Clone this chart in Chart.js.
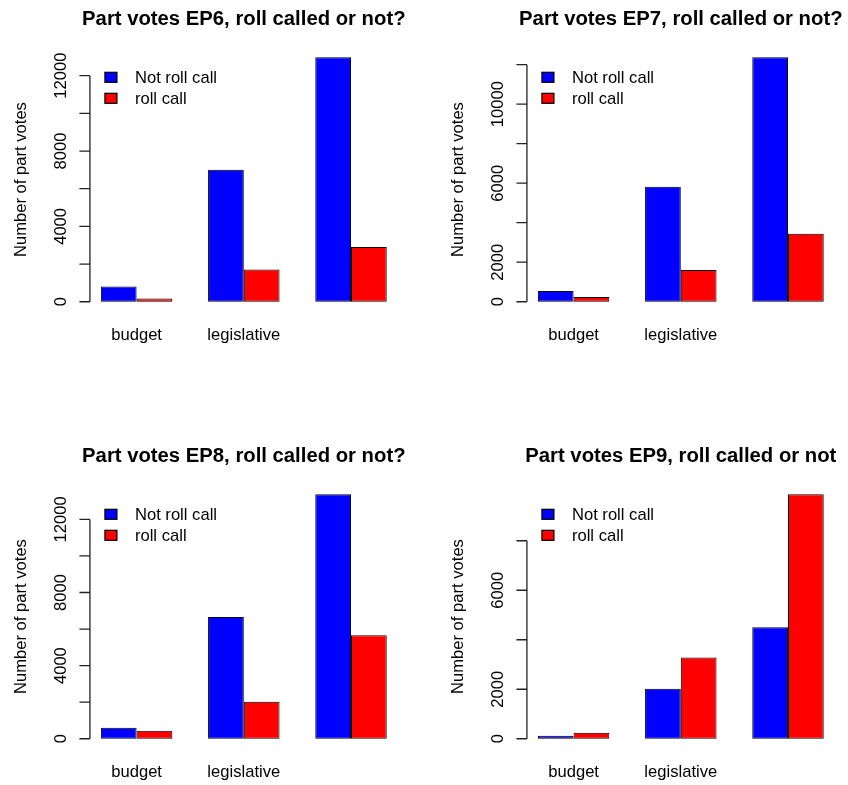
<!DOCTYPE html>
<html><head><meta charset="utf-8">
<script src="https://cdn.jsdelivr.net/npm/chart.js@4/dist/chart.umd.min.js"></script>
<style>
html,body{margin:0;padding:0;background:#fff;}
#wrap{position:relative;width:848px;height:785px;overflow:hidden;background:#fff;}
#wrap canvas{position:absolute;}
</style></head><body><div id="wrap"></div>
<script>
// ---- data ----
const categories = ['budget', 'legislative', ''];
const seriesNames = ['Not roll call', 'roll call'];
const seriesColors = ['#0000FF', '#FF0000'];
const yTitle = 'Number of part votes';

const titleEP6 = 'Part votes EP6, roll called or not?';
const titleEP7 = 'Part votes EP7, roll called or not?';
const titleEP8 = 'Part votes EP8, roll called or not?';
const titleEP9 = 'Part votes EP9, roll called or not';

const ep6NotRollCall = [814, 7009, 12973];
const ep6RollCall    = [177, 1717, 2903];
const ep7NotRollCall = [540, 5823, 12371];
const ep7RollCall    = [236, 1603, 3443];
const ep8NotRollCall = [603, 6667, 13370];
const ep8RollCall    = [438, 2027, 5662];
const ep9NotRollCall = [121, 2024, 4506];
const ep9RollCall    = [243, 3278, 9875];

const ep6Ticks = [0, 2000, 4000, 6000, 8000, 10000, 12000];
const ep6TickLabels = ['0', '', '4000', '', '8000', '', '12000'];
const ep7Ticks = [0, 2000, 4000, 6000, 8000, 10000, 12000];
const ep7TickLabels = ['0', '2000', '', '6000', '', '10000', ''];
const ep8Ticks = [0, 2000, 4000, 6000, 8000, 10000, 12000];
const ep8TickLabels = ['0', '', '4000', '', '8000', '', '12000'];
const ep9Ticks = [0, 2000, 4000, 6000, 8000];
const ep9TickLabels = ['0', '2000', '', '6000', ''];

// ---- layout ----
const FONT = "'Liberation Sans', Arial, Helvetica, sans-serif";
const PANEL = 437;
const panels = [
  {title: titleEP6, a: ep6NotRollCall, b: ep6RollCall, ticks: ep6Ticks, labels: ep6TickLabels, left: 0, top: 0},
  {title: titleEP7, a: ep7NotRollCall, b: ep7RollCall, ticks: ep7Ticks, labels: ep7TickLabels, left: PANEL, top: 0},
  {title: titleEP8, a: ep8NotRollCall, b: ep8RollCall, ticks: ep8Ticks, labels: ep8TickLabels, left: 0, top: PANEL},
  {title: titleEP9, a: ep9NotRollCall, b: ep9RollCall, ticks: ep9Ticks, labels: ep9TickLabels, left: PANEL, top: PANEL}
];

const rStyle = {
  id: 'rStyle',
  afterDraw(chart, args, opts) {
    const ctx = chart.ctx;
    const xs = chart.scales.x, ys = chart.scales.y;
    const ca = chart.chartArea;
    const unit = (xs.getPixelForValue(1) - xs.getPixelForValue(0)) / 3;
    const plotLeft = xs.getPixelForValue(0) - 1.32 * unit;
    const plotRight = xs.getPixelForValue(2) + 1.32 * unit;
    const plotTop = ca.top, plotBottom = ca.bottom;
    ctx.save();
    ctx.fillStyle = '#000';
    ctx.strokeStyle = '#222';
    ctx.lineWidth = 1.3;
    // y axis
    const ax = plotLeft + 0.5;
    const t0 = ys.getPixelForValue(opts.ticks[0]);
    const t1 = ys.getPixelForValue(opts.ticks[opts.ticks.length - 1]);
    ctx.beginPath();
    ctx.moveTo(ax, t0); ctx.lineTo(ax, t1);
    opts.ticks.forEach(v => {
      const y = ys.getPixelForValue(v);
      ctx.moveTo(ax, y); ctx.lineTo(ax - 10.5, y);
    });
    ctx.stroke();
    // tick labels (rotated, parallel to axis)
    ctx.font = '16.6px ' + FONT;
    ctx.textAlign = 'center';
    ctx.textBaseline = 'alphabetic';
    opts.ticks.forEach((v, i) => {
      const lab = opts.labels[i];
      if (!lab) return;
      const y = ys.getPixelForValue(v);
      ctx.save();
      ctx.translate(plotLeft - 23, y);
      ctx.rotate(-Math.PI / 2);
      ctx.fillText(lab, 0, 0);
      ctx.restore();
    });
    // y title
    ctx.save();
    ctx.translate(plotLeft - 63.5, (plotTop + plotBottom) / 2);
    ctx.rotate(-Math.PI / 2);
    ctx.fillText(yTitle, 0, 0);
    ctx.restore();
    // category labels
    categories.forEach((c, i) => {
      if (!c) return;
      ctx.fillText(c, xs.getPixelForValue(i), plotBottom + 28.5);
    });
    // title
    ctx.font = 'bold 20.3px ' + FONT;
    ctx.fillText(opts.title, (plotLeft + plotRight) / 2, plotTop - 22.6);
    // legend
    ctx.font = '16.6px ' + FONT;
    ctx.textAlign = 'left';
    chart.data.datasets.forEach((ds, i) => {
      const by = plotTop + 24.7 + i * 21;
      ctx.fillStyle = ds.backgroundColor;
      ctx.fillRect(plotLeft + 15.5, by, 12, 10);
      ctx.strokeStyle = '#000';
      ctx.lineWidth = 1.2;
      ctx.strokeRect(plotLeft + 15.5, by, 12, 10);
      ctx.fillStyle = '#000';
      ctx.fillText(ds.label, plotLeft + 45.5, by + 11);
    });
    ctx.restore();
  }
};

const wrap = document.getElementById('wrap');
panels.forEach(p => {
  const cv = document.createElement('canvas');
  cv.width = PANEL; cv.height = PANEL;
  cv.style.left = p.left + 'px'; cv.style.top = p.top + 'px';
  cv.style.width = PANEL + 'px'; cv.style.height = PANEL + 'px';
  wrap.appendChild(cv);
  const maxV = Math.max(...p.a, ...p.b);
  new Chart(cv, {
    type: 'bar',
    data: {
      labels: categories,
      datasets: [
        {label: seriesNames[0], data: p.a, backgroundColor: seriesColors[0], borderColor: '#000', borderWidth: 1, borderSkipped: false},
        {label: seriesNames[1], data: p.b, backgroundColor: seriesColors[1], borderColor: '#000', borderWidth: 1, borderSkipped: false}
      ]
    },
    options: {
      responsive: false,
      animation: false,
      devicePixelRatio: 1,
      datasets: {bar: {categoryPercentage: 2 / 3, barPercentage: 1}},
      layout: {padding: {left: 83, right: 32.4, top: 47.6, bottom: 125.5}},
      scales: {
        x: {display: false, offset: true},
        y: {display: false, min: -0.04 * maxV, max: 1.04 * maxV}
      },
      plugins: {
        legend: {display: false},
        tooltip: {enabled: false},
        title: {display: false},
        rStyle: {title: p.title, ticks: p.ticks, labels: p.labels}
      }
    },
    plugins: [rStyle]
  });
});
</script>
</body></html>
